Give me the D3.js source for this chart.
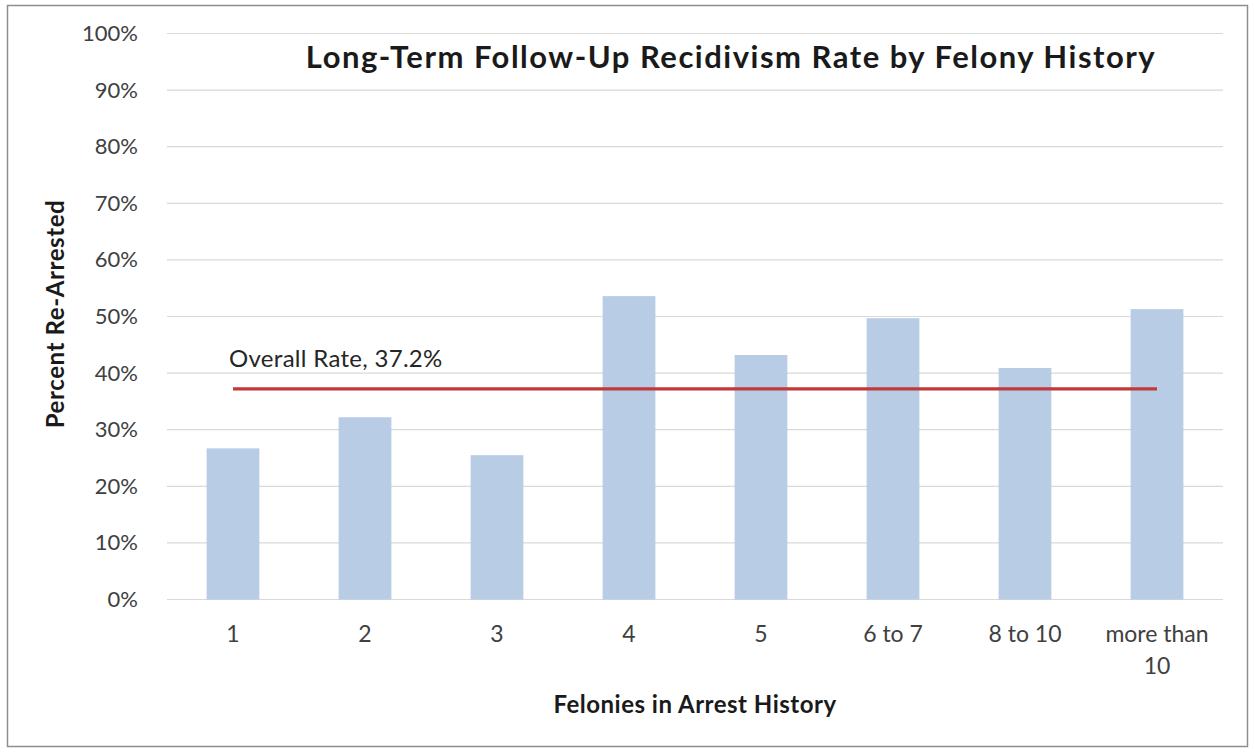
<!DOCTYPE html>
<html>
<head>
<meta charset="utf-8">
<script src="https://cdn.jsdelivr.net/npm/d3@7"></script>
<style>
  html, body { margin: 0; padding: 0; background: #ffffff; }
  svg { display: block; font-family: Lato, "Open Sans", sans-serif; }
</style>
</head>
<body>
<svg id="chart" width="1254" height="753"></svg>
<script>
// ---- data ----
const categories = ["1", "2", "3", "4", "5", "6 to 7", "8 to 10", "more than 10"];
const rates = [26.7, 32.2, 25.5, 53.6, 43.2, 49.7, 40.9, 51.3];
const overallRate = 37.2;
const yTicks = [0, 10, 20, 30, 40, 50, 60, 70, 80, 90, 100];
const titleText = "Long-Term Follow-Up Recidivism Rate by Felony History";
const xTitleText = "Felonies in Arrest History";
const yTitleText = "Percent Re-Arrested";
const overallLabel = "Overall Rate, 37.2%";

// ---- layout ----
const W = 1254, H = 753;
const plot = { left: 167, right: 1223, top: 33.5, bottom: 599.5 };

const svg = d3.select("#chart");

// border
svg.append("rect")
  .attr("x", 7.5).attr("y", 5.5)
  .attr("width", 1240).attr("height", 741)
  .attr("fill", "#ffffff")
  .attr("stroke", "#8e8e8e")
  .attr("stroke-width", 1.5);

const x = d3.scaleBand()
  .domain(categories)
  .range([plot.left, plot.right])
  .paddingInner(0.6)
  .paddingOuter(0.3);

const y = d3.scaleLinear()
  .domain([0, 100])
  .range([plot.bottom, plot.top]);

// gridlines
svg.append("g")
  .selectAll("line")
  .data(yTicks)
  .join("line")
  .attr("x1", plot.left).attr("x2", plot.right)
  .attr("y1", d => y(d)).attr("y2", d => y(d))
  .attr("stroke", "#d9d9d9")
  .attr("stroke-width", 1.2);

// y axis (labels only)
const yAxis = d3.axisLeft(y)
  .tickValues(yTicks)
  .tickFormat(d => d + "%")
  .tickSize(0)
  .tickPadding(0);
const yg = svg.append("g")
  .attr("transform", `translate(138,0)`)
  .call(yAxis);
yg.select(".domain").remove();
yg.selectAll("text")
  .attr("fill", "#404040")
  .style("font-size", "22px")
  .style("font-family", "Lato, sans-serif");

// bars
svg.append("g")
  .selectAll("rect")
  .data(categories)
  .join("rect")
  .attr("x", d => x(d))
  .attr("width", x.bandwidth())
  .attr("y", (d, i) => y(rates[i]))
  .attr("height", (d, i) => y(0) - y(rates[i]))
  .attr("fill", "#b8cce6");

// x axis labels
const xAxis = d3.axisBottom(x).tickSize(0).tickPadding(0);
const xg = svg.append("g")
  .attr("transform", `translate(0,${plot.bottom})`)
  .call(xAxis);
xg.select(".domain").remove();
xg.selectAll("text").remove();
xg.selectAll(".tick").each(function(d) {
  const t = d3.select(this).append("text")
    .attr("text-anchor", "middle")
    .attr("fill", "#404040")
    .style("font-size", "23px")
    .style("font-family", "Lato, sans-serif");
  const lines = d === "more than 10" ? ["more than", "10"] : [d];
  lines.forEach((ln, k) => {
    t.append("tspan")
      .attr("x", 0)
      .attr("y", 42 + k * 32)
      .text(ln);
  });
});

// overall rate line
const line = d3.line()
  .x(d => x(d) + x.bandwidth() / 2)
  .y(() => y(overallRate));
svg.append("path")
  .datum([categories[0], categories[categories.length - 1]])
  .attr("d", line)
  .attr("fill", "none")
  .attr("stroke", "#c0393b")
  .attr("stroke-width", 3.2);

svg.append("text")
  .attr("x", x(categories[0]) + x.bandwidth() / 2 - 4)
  .attr("y", y(overallRate) - 22)
  .attr("fill", "#262626")
  .style("font-size", "24px")
  .style("letter-spacing", "0.3px")
  .style("font-family", "Lato, sans-serif")
  .text(overallLabel);

// title
svg.append("text")
  .attr("x", 731)
  .attr("y", 68)
  .attr("text-anchor", "middle")
  .attr("fill", "#1a1a1a")
  .style("font-size", "31px")
  .style("letter-spacing", "1.5px")
  .style("font-weight", "bold")
  .style("font-family", "Lato, sans-serif")
  .text(titleText);

// axis titles
svg.append("text")
  .attr("x", 695)
  .attr("y", 713)
  .attr("text-anchor", "middle")
  .attr("fill", "#1a1a1a")
  .style("font-size", "24px")
  .style("letter-spacing", "0.5px")
  .style("font-weight", "bold")
  .style("font-family", "Lato, sans-serif")
  .text(xTitleText);

svg.append("text")
  .attr("transform", "translate(64,314) rotate(-90)")
  .attr("text-anchor", "middle")
  .attr("fill", "#1a1a1a")
  .style("font-size", "24px")
  .style("letter-spacing", "0.6px")
  .style("font-weight", "bold")
  .style("font-family", "Lato, sans-serif")
  .text(yTitleText);
</script>
</body>
</html>
